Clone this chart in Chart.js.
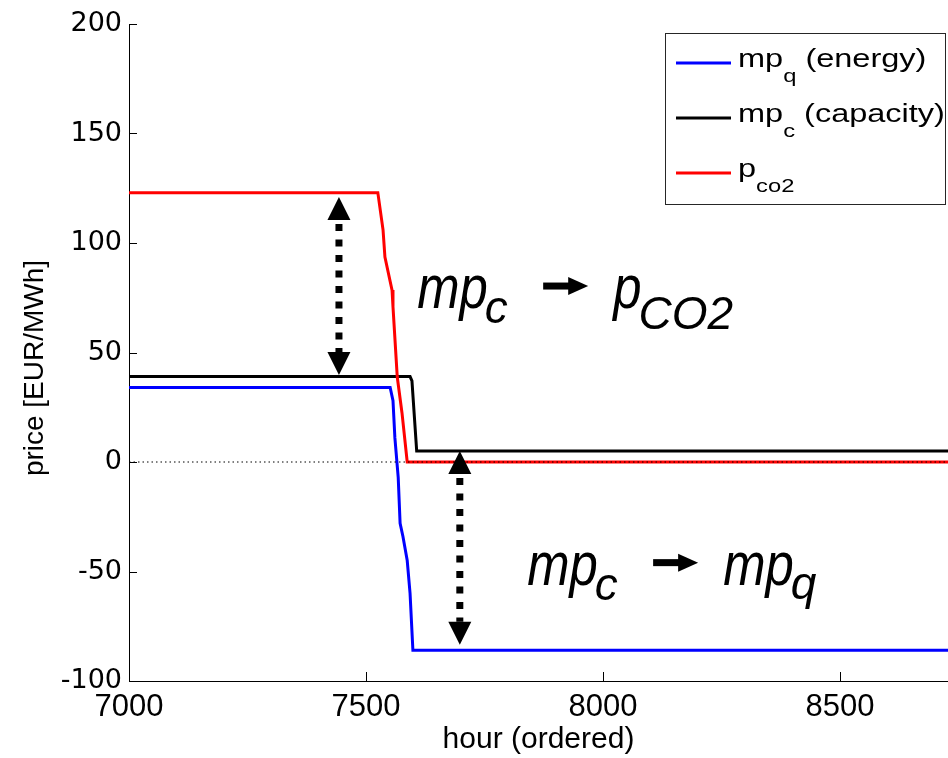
<!DOCTYPE html>
<html>
<head>
<meta charset="utf-8">
<script src="https://cdn.jsdelivr.net/npm/chart.js@4.4.1/dist/chart.umd.min.js"></script>
<style>
  html, body { margin: 0; padding: 0; background: #fff; }
  #wrap { width: 948px; height: 758px; }
</style>
</head>
<body>
<div id="wrap"><canvas id="chart" width="948" height="758"></canvas></div>
<script>
// Prices over the ordered hours
const hoursEnergy = [7000, 7551, 7557, 7561, 7568, 7572, 7578, 7587, 7593, 7599, 8760];
const priceEnergy = [34, 34, 28, 11, -7, -28, -34, -45, -60, -86, -86];

const hoursCapacity = [7000, 7593, 7597, 7607, 8760];
const priceCapacity = [39, 39, 37, 5, 5];

const hoursCo2 = [7000, 7525, 7536, 7540, 7555, 7557, 7566, 7576, 7587, 8760];
const priceCo2 = [123, 123, 106, 93.6, 78.5, 70.8, 38.8, 22.4, 0, 0];

const hoursZero = [7000, 8760];
const priceZero = [0, 0];

const xTicks = [7000, 7500, 8000, 8500];
const yTicks = [-100, -50, 0, 50, 100, 150, 200];

// legend: main text, subscript, rest
const legendMain = ['mp', 'mp', 'p'];
const legendSub = ['q', 'c', 'co2'];
const legendRest = [' (energy)', ' (capacity)', ''];
const legendColors = ['#0000ff', '#000000', '#ff0000'];

// dotted double arrows (hour, top price, bottom price)
const arrowHours = [7443, 7698];
const arrowTop = [121, 5];
const arrowBottom = [39.7, -83.5];

// big italic notes: anchor (hour, price) then "from -> to"
const noteHours = [7608, 7840];
const notePrices = [70.3, -56];
const noteFromMain = ['mp', 'mp'];
const noteFromSub = ['c', 'c'];
const noteToMain = ['p', 'mp'];
const noteToSub = ['CO2', 'q'];
const noteToDrop = [21, 14];

const FONT = '"Liberation Sans", Arial, sans-serif';
const WIDE = '"DejaVu Sans", sans-serif';
Chart.defaults.font.family = FONT;
Chart.defaults.color = '#000';

const toPoints = (xs, ys) => xs.map((x, i) => ({ x: x, y: ys[i] }));

function drawHead(ctx, x, y, dir, w, h) {
  // dir = -1 points up, 1 points down; (x, y) is the tip
  ctx.beginPath();
  ctx.moveTo(x, y);
  ctx.lineTo(x - w / 2, y - dir * h);
  ctx.lineTo(x + w / 2, y - dir * h);
  ctx.closePath();
  ctx.fill();
}

// text drawn with a horizontal stretch, returns advance in px
function stretchText(ctx, txt, x, y, sx) {
  ctx.save();
  ctx.translate(x, y);
  ctx.scale(sx, 1);
  ctx.fillText(txt, 0, 0);
  const w = ctx.measureText(txt).width * sx;
  ctx.restore();
  return w;
}

const extras = {
  id: 'extras',
  afterDatasetsDraw(chart) {
    const ctx = chart.ctx;
    const xs = chart.scales.x;
    const ys = chart.scales.y;
    const area = chart.chartArea;
    ctx.save();

    // inward tick marks
    ctx.strokeStyle = '#000';
    ctx.lineWidth = 1;
    ctx.beginPath();
    yTicks.forEach(v => {
      const py = Math.round(ys.getPixelForValue(v)) + 0.5;
      ctx.moveTo(area.left, py);
      ctx.lineTo(area.left + 8, py);
    });
    xTicks.forEach(v => {
      const px = Math.round(xs.getPixelForValue(v)) + 0.5;
      ctx.moveTo(px, area.bottom);
      ctx.lineTo(px, area.bottom - 9);
    });
    ctx.stroke();

    // y axis title
    ctx.save();
    ctx.translate(35, 368);
    ctx.rotate(-Math.PI / 2);
    ctx.font = '28px ' + FONT;
    ctx.textAlign = 'center';
    ctx.textBaseline = 'middle';
    ctx.fillStyle = '#000';
    ctx.fillText('price [EUR/MWh]', 0, 0);
    ctx.restore();

    // dotted double arrows
    ctx.fillStyle = '#000';
    arrowHours.forEach((h, i) => {
      const px = xs.getPixelForValue(h);
      const top = ys.getPixelForValue(arrowTop[i]);
      const bot = ys.getPixelForValue(arrowBottom[i]);
      const hw = 23, hh = 23;
      drawHead(ctx, px, top, -1, hw, hh);
      drawHead(ctx, px, bot, 1, hw, hh);
      ctx.strokeStyle = '#000';
      ctx.lineWidth = 7;
      ctx.setLineDash([7, 8.5]);
      ctx.beginPath();
      ctx.moveTo(px, top + hh + 4);
      ctx.lineTo(px, bot - hh);
      ctx.stroke();
      ctx.setLineDash([]);
    });

    // big italic notes
    ctx.textBaseline = 'alphabetic';
    ctx.textAlign = 'left';
    noteHours.forEach((h, i) => {
      const x0 = xs.getPixelForValue(h);
      const base = ys.getPixelForValue(notePrices[i]);
      ctx.fillStyle = '#000';
      ctx.font = 'italic 62px ' + FONT;
      let w = stretchText(ctx, noteFromMain[i], x0, base, 0.82);
      ctx.font = 'italic 46px ' + FONT;
      stretchText(ctx, noteFromSub[i], x0 + w - 3, base + 15, 1.0);
      // arrow glyph
      const ay = base - 22;
      ctx.fillRect(x0 + 126, ay - 3.5, 30, 7);
      ctx.beginPath();
      ctx.moveTo(x0 + 171, ay);
      ctx.lineTo(x0 + 151, ay - 9);
      ctx.lineTo(x0 + 151, ay + 9);
      ctx.closePath();
      ctx.fill();
      const x1 = x0 + 196;
      ctx.font = 'italic 62px ' + FONT;
      w = stretchText(ctx, noteToMain[i], x1, base, 0.82);
      ctx.font = 'italic 46px ' + FONT;
      stretchText(ctx, noteToSub[i], x1 + w - 3, base + noteToDrop[i], 1.0);
    });

    // legend box with subscripts
    ctx.fillStyle = '#fff';
    ctx.fillRect(666, 34, 279, 170);
    ctx.strokeStyle = '#262626';
    ctx.lineWidth = 1;
    ctx.strokeRect(665.5, 33.5, 280, 171);
    legendMain.forEach((m, i) => {
      const ly = 63 + i * 55;
      ctx.strokeStyle = legendColors[i];
      ctx.lineWidth = 3;
      ctx.beginPath();
      ctx.moveTo(676, ly);
      ctx.lineTo(731, ly);
      ctx.stroke();
      ctx.fillStyle = '#000';
      const tx = 738, base = ly + 3.5, sx = 1.25;
      ctx.font = '26px ' + FONT;
      let w = stretchText(ctx, m, tx, base, sx);
      ctx.font = '19px ' + FONT;
      const ws = stretchText(ctx, legendSub[i], tx + w, base + 15, sx);
      ctx.font = '26px ' + FONT;
      stretchText(ctx, legendRest[i], tx + w + ws, base, sx);
    });

    ctx.restore();
  }
};

new Chart(document.getElementById('chart'), {
  type: 'line',
  data: {
    datasets: [
      {
        label: 'zero',
        data: toPoints(hoursZero, priceZero),
        borderColor: '#000',
        borderWidth: 1,
        borderDash: [1.5, 3],
        pointRadius: 0,
        order: 0
      },
      {
        label: 'p_co2',
        data: toPoints(hoursCo2, priceCo2),
        borderColor: '#ff0000',
        borderWidth: 3,
        pointRadius: 0,
        order: 1
      },
      {
        label: 'mp_c (capacity)',
        data: toPoints(hoursCapacity, priceCapacity),
        borderColor: '#000000',
        borderWidth: 3,
        pointRadius: 0,
        order: 2
      },
      {
        label: 'mp_q (energy)',
        data: toPoints(hoursEnergy, priceEnergy),
        borderColor: '#0000ff',
        borderWidth: 3,
        pointRadius: 0,
        order: 3
      }
    ]
  },
  options: {
    responsive: false,
    animation: false,
    events: [],
    layout: { padding: { top: 24, right: 0, left: 0, bottom: 0 } },
    plugins: {
      legend: { display: false },
      tooltip: { enabled: false }
    },
    scales: {
      x: {
        type: 'linear',
        min: 7000,
        max: 8728,
        afterBuildTicks: (axis) => { axis.ticks = xTicks.map(v => ({ value: v })); },
        afterFit: (axis) => { axis.height = 77; },
        grid: { display: false, drawTicks: false },
        border: { display: true, color: '#000', width: 1 },
        ticks: {
          padding: 8,
          font: { size: 31 },
          color: '#000',
          maxRotation: 0,
          callback: (v) => String(v)
        },
        title: {
          display: true,
          text: 'hour (ordered)',
          font: { size: 30 },
          color: '#000',
          padding: { top: 0, bottom: 0 }
        }
      },
      y: {
        min: -100,
        max: 200,
        afterBuildTicks: (axis) => { axis.ticks = yTicks.map(v => ({ value: v })); },
        afterFit: (axis) => { axis.width = 129; },
        grid: { display: false, drawTicks: false },
        border: { display: true, color: '#000', width: 1 },
        ticks: {
          padding: 7,
          font: { size: 27, family: WIDE },
          color: '#000',
          callback: (v) => String(v)
        }
      }
    }
  },
  plugins: [extras]
});
</script>
</body>
</html>
